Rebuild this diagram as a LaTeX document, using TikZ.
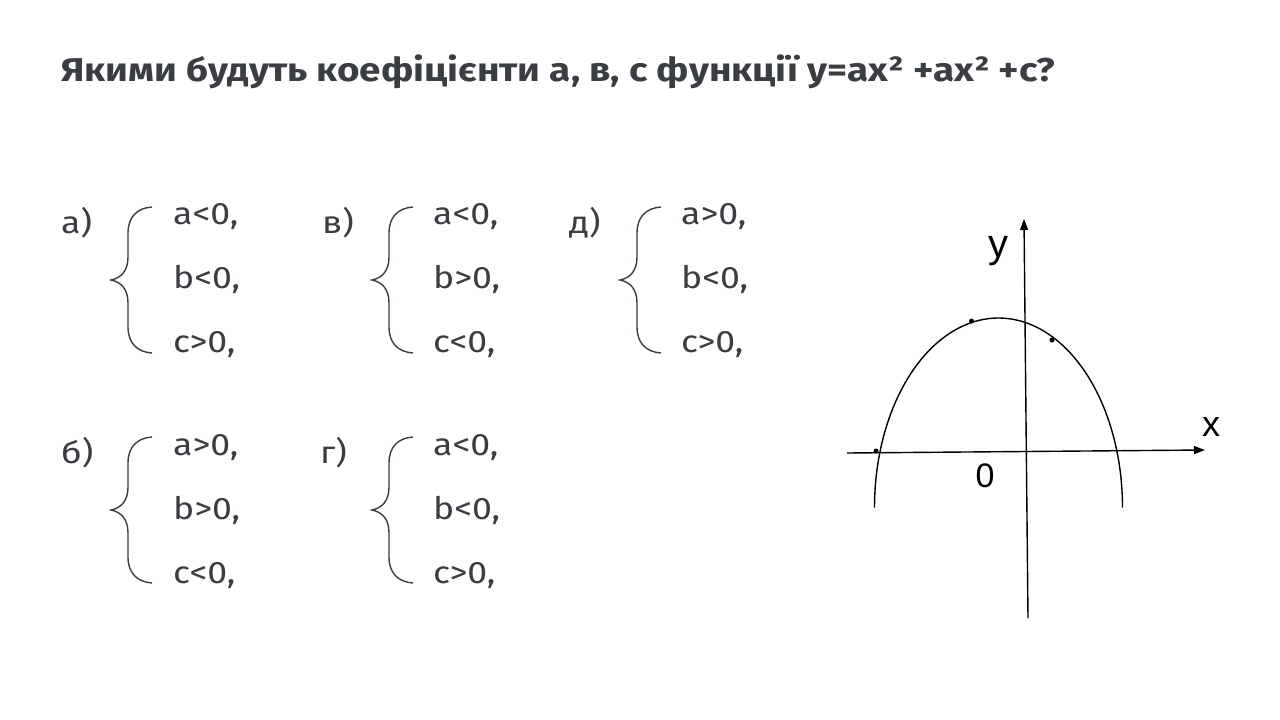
\documentclass[tikz,border=0pt]{standalone}
\usepackage{fontspec}
\setmainfont{Fira Sans}
\newfontfamily\titlefont{Fira Sans}[UprightFont=* Bold, FakeStretch=1.17]
\newfontfamily\itemfont{Fira Sans}[FakeStretch=1.15]
\newfontfamily\axisfont{Liberation Sans}
\usetikzlibrary{arrows.meta}
\definecolor{txt}{HTML}{3A3D41}
\tikzset{
  titlestyle/.style={font=\titlefont\fontsize{33}{40}\selectfont, text=txt, anchor=base west, inner sep=0pt},
  itemstyle/.style={font=\itemfont\fontsize{31}{37}\selectfont, text=txt, anchor=base west, inner sep=0pt},
  lblstyle/.style={font=\itemfont\fontsize{31}{37}\selectfont, text=txt, anchor=base west, inner sep=0pt},
  bracestyle/.style={draw=txt, line width=1.4pt},
  axisstyle/.style={draw=black, line width=1.4pt, -{Triangle[length=11pt,width=8pt]}},
  curvestyle/.style={draw=black, line width=1.4pt},
  axislabel/.style={font=\axisfont\fontsize{36}{42}\selectfont, text=black, inner sep=0pt},
  dotstyle/.style={circle, fill=black, inner sep=0pt, minimum size=5pt},
  mybrace/.pic={
    \draw[bracestyle] (41,0) .. controls (26,1) and (17,10) .. (17,26)
      -- (17,50) .. controls (17,64) and (10,71) .. (0,73)
      .. controls (10,75) and (17,82) .. (17,96)
      -- (17,120) .. controls (17,136) and (26,145) .. (41,146);
  }
}
\begin{document}
\begin{tikzpicture}[x=1pt,y=-1pt]
\useasboundingbox[fill=white] (0,0) rectangle (1280,720);

\node[titlestyle] (title) at (61,81) {Якими будуть коефіцієнти а, в, с функції y=ax² +ax² +c?};

% system a)
\node[lblstyle] (la) at (61,233) {а)};
\pic at (111,207) {mybrace};
\node[itemstyle] (a1) at (173,224) {a<0,};
\node[itemstyle] (a2) at (173,288) {b<0,};
\node[itemstyle] (a3) at (173,352) {c>0,};

% system в)
\node[lblstyle] (lv) at (322,233) {в)};
\pic at (372,207) {mybrace};
\node[itemstyle] (v1) at (433,224) {a<0,};
\node[itemstyle] (v2) at (433,288) {b>0,};
\node[itemstyle] (v3) at (433,352) {c<0,};

% system д)
\node[lblstyle] (ld) at (569,233) {д)};
\pic at (620,207) {mybrace};
\node[itemstyle] (d1) at (681,224) {a>0,};
\node[itemstyle] (d2) at (681,288) {b<0,};
\node[itemstyle] (d3) at (681,352) {c>0,};

% system б)
\node[lblstyle] (lb) at (61,463) {б)};
\pic at (111,437) {mybrace};
\node[itemstyle] (b1) at (173,455) {a>0,};
\node[itemstyle] (b2) at (173,519) {b>0,};
\node[itemstyle] (b3) at (173,583) {c<0,};

% system г)
\node[lblstyle] (lg) at (320,463) {г)};
\pic at (372,437) {mybrace};
\node[itemstyle] (g1) at (433,455) {a<0,};
\node[itemstyle] (g2) at (433,519) {b<0,};
\node[itemstyle] (g3) at (433,583) {c>0,};

% graph
\coordinate (xs) at (847,453);
\coordinate (xe) at (1205,450);
\coordinate (ys) at (1028,618);
\coordinate (ye) at (1024,219);
\draw[axisstyle] (xs) -- (xe);
\draw[axisstyle] (ys) -- (ye);
\draw[curvestyle] plot[domain=180:0, samples=90, smooth] ({998.5+124*cos(\x)}, {507.5-189.5*sin(\x)});
\node[dotstyle] (p1) at (876,451) {};
\node[dotstyle] (p2) at (971.5,321) {};
\node[dotstyle] (p3) at (1052,340) {};
\node[axislabel, font=\axisfont\fontsize{40}{46}\selectfont] (ylab) at (998,251) {y};
\node[axislabel] (xlab) at (1211,427) {x};
\node[axislabel, font=\axisfont\fontsize{34}{40}\selectfont] (olab) at (985,476) {0};
\end{tikzpicture}
\end{document}
